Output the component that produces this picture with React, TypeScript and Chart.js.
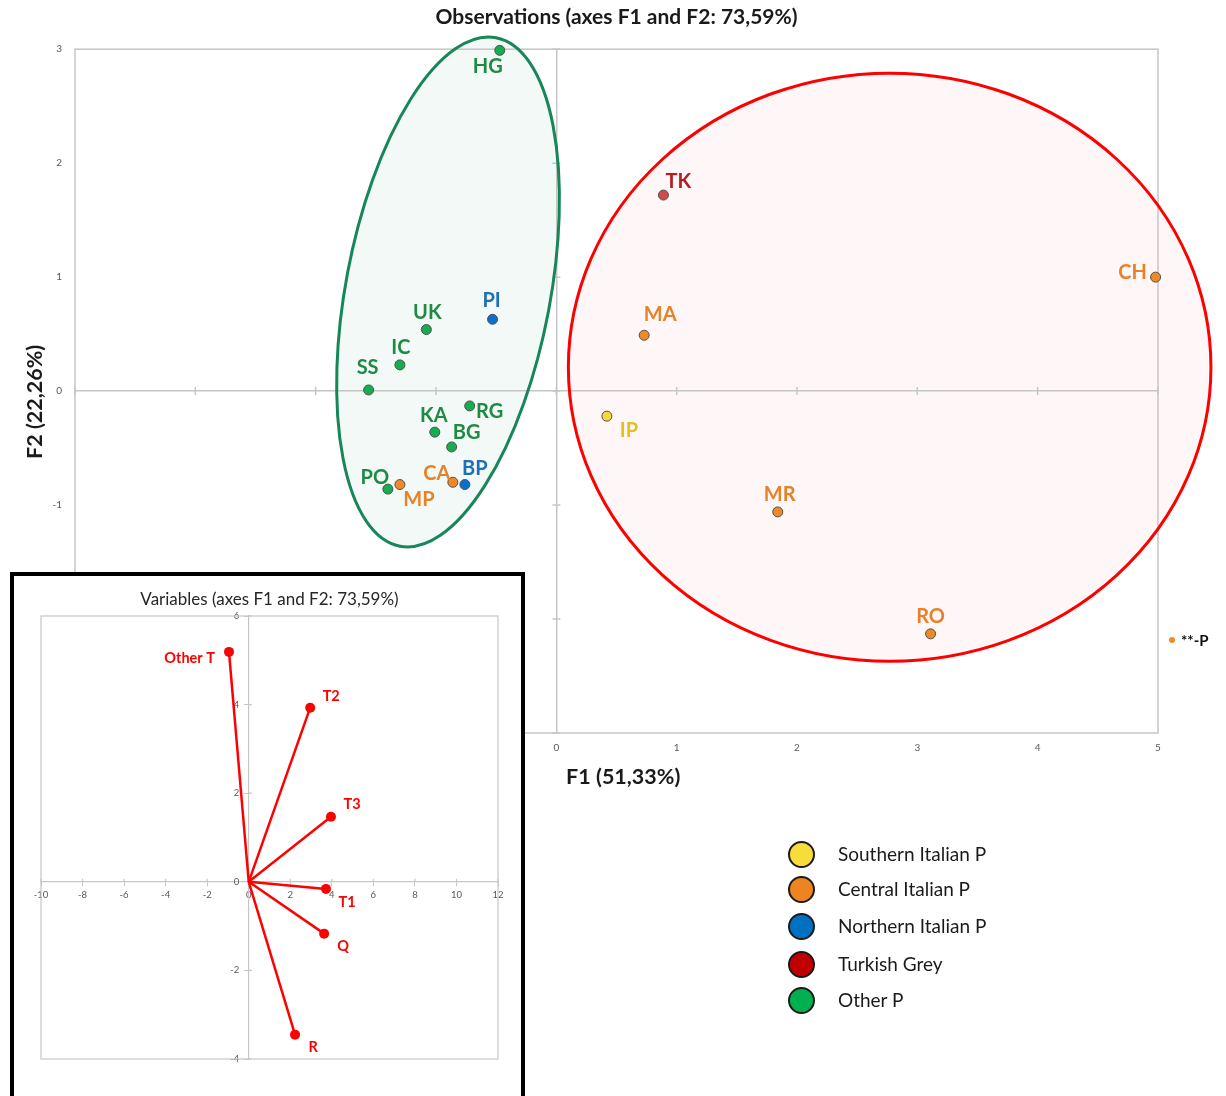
import React, { useEffect, useRef } from 'react';
import { Chart, registerables } from 'chart.js';

Chart.register(...registerables);

// ---------- Observations (main chart) ----------
const OBS_NAMES = ['HG', 'TK', 'CH', 'MA', 'PI', 'UK', 'IC', 'SS', 'RG', 'KA', 'BG', 'CA', 'BP', 'PO', 'MP', 'IP', 'MR', 'RO'];
const OBS_F1 = [-0.47, 0.89, 4.98, 0.73, -0.53, -1.08, -1.3, -1.56, -0.72, -1.01, -0.87, -0.86, -0.76, -1.4, -1.3, 0.42, 1.84, 3.11];
const OBS_F2 = [2.99, 1.72, 1.0, 0.49, 0.63, 0.54, 0.23, 0.01, -0.13, -0.36, -0.49, -0.8, -0.82, -0.86, -0.82, -0.22, -1.06, -2.13];
const OBS_GROUP = ['Other P', 'Turkish Grey', 'Central Italian P', 'Central Italian P', 'Northern Italian P', 'Other P', 'Other P', 'Other P', 'Other P', 'Other P', 'Other P', 'Central Italian P', 'Northern Italian P', 'Other P', 'Central Italian P', 'Southern Italian P', 'Central Italian P', 'Central Italian P'];
const GROUPS = ['Southern Italian P', 'Central Italian P', 'Northern Italian P', 'Turkish Grey', 'Other P'];

const F1_RANGE = [-4, 5];
const F2_RANGE = [-3, 3];
const OBS_TITLE = 'Observations (axes F1 and F2: 73,59%)';
const F1_TITLE = 'F1 (51,33%)';
const F2_TITLE = 'F2 (22,26%)';

// cluster ellipses (data units)
const CLUSTER_CENTER_F1 = [-0.9, 2.77];
const CLUSTER_CENTER_F2 = [0.87, 0.21];
const CLUSTER_RADIUS_F1 = [0.85, 2.67];
const CLUSTER_RADIUS_F2 = [2.27, 2.58];
const CLUSTER_TILT_DEG = [10.7, 0];

// ---------- Variables (inset chart) ----------
const VAR_NAMES = ['Other T', 'T2', 'T3', 'T1', 'Q', 'R'];
const VAR_F1 = [-0.95, 2.96, 3.96, 3.72, 3.63, 2.23];
const VAR_F2 = [5.19, 3.93, 1.47, -0.16, -1.17, -3.45];
const VAR_X_RANGE = [-10, 12];
const VAR_Y_RANGE = [-4, 6];
const VAR_TITLE = 'Variables (axes F1 and F2: 73,59%)';

// ---------- styles ----------
const GROUP_STYLE: Record<string, { point: string; text: string; legend: string }> = {
  'Southern Italian P': { point: '#f6d83a', text: '#e6bf1e', legend: '#f7dc3c' },
  'Central Italian P': { point: '#ef8a24', text: '#e5822a', legend: '#ee8420' },
  'Northern Italian P': { point: '#0a6fcf', text: '#1f6fb8', legend: '#0070c0' },
  'Turkish Grey': { point: '#d04a4a', text: '#b41c26', legend: '#c00000' },
  'Other P': { point: '#16ad50', text: '#1f8a44', legend: '#00b050' },
};
const CLUSTER_STYLE = [
  { stroke: '#17875a', fill: 'rgba(26,138,92,0.055)' },
  { stroke: '#ff0000', fill: 'rgba(255,0,0,0.033)' },
];
const OBS_LABEL_OFFSET: Record<string, [number, number]> = {
  HG: [-12, 16], TK: [15, -14], CH: [-23, -5], MA: [16, -21], PI: [-1, -19], UK: [1, -17],
  IC: [1, -17], SS: [-1, -22], RG: [20, 6], KA: [-1, -17], BG: [15, -14], CA: [-16, -9],
  BP: [10, -16], PO: [-13, -12], MP: [19, 15], IP: [22, 14], MR: [2, -17], RO: [0, -17],
};
const VAR_LABEL_OFFSET: Record<string, [number, number, CanvasTextAlign]> = {
  'Other T': [-14, 6, 'right'], T2: [21, -11, 'center'], T3: [21, -12, 'center'],
  T1: [21, 13, 'center'], Q: [19, 13, 'center'], R: [18, 13, 'center'],
};
const LEGEND_Y = [854, 889, 926, 964, 1000];
const FONT = 'Lato, "Open Sans", sans-serif';
const AXIS_GREY = '#c6c6c6';

const obsPlugin = {
  id: 'obsExtras',
  beforeDraw(chart: any) {
    const { ctx } = chart;
    const x = chart.scales.x;
    const y = chart.scales.y;
    CLUSTER_CENTER_F1.forEach((c1, i) => {
      const cx = x.getPixelForValue(c1);
      const cy = y.getPixelForValue(CLUSTER_CENTER_F2[i]);
      const rx = Math.abs(x.getPixelForValue(c1 + CLUSTER_RADIUS_F1[i]) - cx);
      const ry = Math.abs(y.getPixelForValue(CLUSTER_CENTER_F2[i] + CLUSTER_RADIUS_F2[i]) - cy);
      ctx.save();
      ctx.beginPath();
      ctx.ellipse(cx, cy, rx, ry, (CLUSTER_TILT_DEG[i] * Math.PI) / 180, 0, Math.PI * 2);
      ctx.fillStyle = CLUSTER_STYLE[i].fill;
      ctx.fill();
      ctx.restore();
    });
  },
  beforeDatasetsDraw(chart: any) {
    const { ctx, chartArea: a } = chart;
    const x = chart.scales.x;
    const y = chart.scales.y;
    ctx.save();
    ctx.strokeStyle = AXIS_GREY;
    ctx.lineWidth = 1.5;
    ctx.strokeRect(a.left, a.top, a.right - a.left, a.bottom - a.top);
    const x0 = x.getPixelForValue(0);
    const y0 = y.getPixelForValue(0);
    ctx.beginPath();
    x.ticks.forEach((t: any) => {
      const px = x.getPixelForValue(t.value);
      ctx.moveTo(px, y0 - 4);
      ctx.lineTo(px, y0 + 4);
    });
    y.ticks.forEach((t: any) => {
      const py = y.getPixelForValue(t.value);
      ctx.moveTo(x0 - 4, py);
      ctx.lineTo(x0 + 4, py);
    });
    ctx.stroke();
    ctx.restore();
    CLUSTER_CENTER_F1.forEach((c1, i) => {
      const cx = x.getPixelForValue(c1);
      const cy = y.getPixelForValue(CLUSTER_CENTER_F2[i]);
      const rx = Math.abs(x.getPixelForValue(c1 + CLUSTER_RADIUS_F1[i]) - cx);
      const ry = Math.abs(y.getPixelForValue(CLUSTER_CENTER_F2[i] + CLUSTER_RADIUS_F2[i]) - cy);
      ctx.save();
      ctx.beginPath();
      ctx.ellipse(cx, cy, rx, ry, (CLUSTER_TILT_DEG[i] * Math.PI) / 180, 0, Math.PI * 2);
      ctx.strokeStyle = CLUSTER_STYLE[i].stroke;
      ctx.lineWidth = 3;
      ctx.stroke();
      ctx.restore();
    });
  },
  afterDatasetsDraw(chart: any) {
    const { ctx } = chart;
    ctx.save();
    ctx.font = `bold 20px ${FONT}`;
    ctx.textAlign = 'center';
    ctx.textBaseline = 'middle';
    chart.data.datasets.forEach((ds: any, di: number) => {
      const meta = chart.getDatasetMeta(di);
      meta.data.forEach((el: any, pi: number) => {
        const name = ds.data[pi].name;
        const off = OBS_LABEL_OFFSET[name] || [0, -16];
        ctx.fillStyle = GROUP_STYLE[ds.label].text;
        ctx.fillText(name, el.x + off[0], el.y + off[1]);
      });
    });
    ctx.restore();
  },
};

const varPlugin = {
  id: 'varExtras',
  beforeDatasetsDraw(chart: any) {
    const { ctx, chartArea: a } = chart;
    const x = chart.scales.x;
    const y = chart.scales.y;
    ctx.save();
    ctx.strokeStyle = AXIS_GREY;
    ctx.lineWidth = 1.2;
    ctx.strokeRect(a.left, a.top, a.right - a.left, a.bottom - a.top);
    const x0 = x.getPixelForValue(0);
    const y0 = y.getPixelForValue(0);
    ctx.beginPath();
    x.ticks.forEach((t: any) => {
      const px = x.getPixelForValue(t.value);
      ctx.moveTo(px, y0 - 3);
      ctx.lineTo(px, y0);
    });
    y.ticks.forEach((t: any) => {
      const py = y.getPixelForValue(t.value);
      ctx.moveTo(x0, py);
      ctx.lineTo(x0 + 3, py);
    });
    ctx.stroke();
    ctx.restore();
  },
  afterDatasetsDraw(chart: any) {
    const { ctx } = chart;
    ctx.save();
    ctx.font = `bold 14.5px ${FONT}`;
    ctx.textBaseline = 'middle';
    ctx.fillStyle = '#ff0000';
    chart.data.datasets.forEach((ds: any, di: number) => {
      const meta = chart.getDatasetMeta(di);
      const el = meta.data[1];
      const off = VAR_LABEL_OFFSET[ds.label] || [15, 10, 'center'];
      ctx.textAlign = off[2];
      ctx.fillText(ds.label, el.x + off[0], el.y + off[1]);
    });
    ctx.restore();
  },
};

function ObservationsChart() {
  const ref = useRef<HTMLCanvasElement>(null);
  useEffect(() => {
    if (!ref.current) return;
    const datasets = GROUPS.map((g) => ({
      label: g,
      data: OBS_NAMES.map((n, i) => ({ x: OBS_F1[i], y: OBS_F2[i], name: n, group: OBS_GROUP[i] })).filter((p) => p.group === g),
      backgroundColor: GROUP_STYLE[g].point,
      borderColor: '#505050',
      borderWidth: 1,
      pointRadius: 5,
      clip: false as any,
    }));
    const chart = new Chart(ref.current, {
      type: 'scatter',
      data: { datasets },
      plugins: [obsPlugin],
      options: {
        responsive: false,
        animation: false,
        devicePixelRatio: 1,
        layout: { padding: { left: 12, right: 68, top: 0, bottom: 303 } },
        plugins: {
          legend: { display: false },
          tooltip: { enabled: false },
          title: {
            display: true,
            fullSize: false,
            text: OBS_TITLE,
            color: '#1a1a1a',
            font: { family: FONT, size: 21, weight: 'bold' },
            padding: { top: 5, bottom: 19 },
          },
        },
        scales: {
          x: {
            type: 'linear',
            min: F1_RANGE[0],
            max: F1_RANGE[1],
            ticks: { stepSize: 1, color: '#595959', font: { family: FONT, size: 10 }, padding: 9 },
            grid: {
              color: (c: any) => (c.tick && c.tick.value === 0 ? AXIS_GREY : 'rgba(0,0,0,0)'),
              lineWidth: 1.5,
              drawTicks: false,
            },
            border: { display: false },
            title: {
              display: true,
              text: '\u2002\u2009' + F1_TITLE,
              color: '#1a1a1a',
              font: { family: FONT, size: 21.5, weight: 'bold' },
              padding: { top: 0, bottom: 3 },
            },
            afterFit: (s: any) => {
              s.height = 60;
            },
          },
          y: {
            type: 'linear',
            min: F2_RANGE[0],
            max: F2_RANGE[1],
            ticks: { stepSize: 1, color: '#595959', font: { family: FONT, size: 10 }, padding: 13 },
            grid: {
              color: (c: any) => (c.tick && c.tick.value === 0 ? AXIS_GREY : 'rgba(0,0,0,0)'),
              lineWidth: 1.5,
              drawTicks: false,
            },
            border: { display: false },
            title: {
              display: true,
              text: F2_TITLE + '\u2002\u2002',
              color: '#1a1a1a',
              font: { family: FONT, size: 21.5, weight: 'bold' },
              padding: { top: 10, bottom: 0 },
            },
            afterFit: (s: any) => {
              s.width = 63;
            },
          },
        },
      } as any,
    });
    return () => chart.destroy();
  }, []);
  return <canvas ref={ref} width={1226} height={1096} style={{ position: 'absolute', left: 0, top: 0, display: 'block' }} />;
}

function VariablesChart() {
  const ref = useRef<HTMLCanvasElement>(null);
  useEffect(() => {
    if (!ref.current) return;
    const datasets = VAR_NAMES.map((n, i) => ({
      label: n,
      data: [
        { x: 0, y: 0 },
        { x: VAR_F1[i], y: VAR_F2[i] },
      ],
      showLine: true,
      borderColor: '#ff0000',
      borderWidth: 2.5,
      backgroundColor: '#ff0000',
      pointRadius: [0, 5],
      pointBorderWidth: 0,
      clip: false as any,
    }));
    const chart = new Chart(ref.current, {
      type: 'scatter',
      data: { datasets },
      plugins: [varPlugin],
      options: {
        responsive: false,
        animation: false,
        devicePixelRatio: 1,
        layout: { padding: { left: 27, right: 23, top: 0, bottom: 37 } },
        plugins: {
          legend: { display: false },
          tooltip: { enabled: false },
          title: {
            display: true,
            text: VAR_TITLE,
            color: '#262626',
            font: { family: FONT, size: 17, weight: 'normal' },
            padding: { top: 13, bottom: 6.6 },
          },
        },
        scales: {
          x: {
            type: 'linear',
            position: { y: 0 },
            min: VAR_X_RANGE[0],
            max: VAR_X_RANGE[1],
            ticks: { stepSize: 2, color: '#595959', font: { family: FONT, size: 9.5 }, padding: 3 },
            grid: { drawOnChartArea: false, drawTicks: true, tickLength: 4, color: AXIS_GREY },
            border: { display: true, color: AXIS_GREY, width: 1.2 },
          },
          y: {
            type: 'linear',
            position: { x: 0 },
            min: VAR_Y_RANGE[0],
            max: VAR_Y_RANGE[1],
            ticks: {
              stepSize: 2,
              color: '#595959',
              font: { family: FONT, size: 9.5 },
              padding: 4,
              callback: (v: any) => String(v) + '\u2002\u2002',
            },
            grid: { drawOnChartArea: false, drawTicks: true, tickLength: 4, color: AXIS_GREY },
            border: { display: true, color: AXIS_GREY, width: 1.2 },
          },
        },
      } as any,
    });
    return () => chart.destroy();
  }, []);
  return <canvas ref={ref} width={507} height={520} style={{ display: 'block' }} />;
}

export default function App() {
  return (
    <div style={{ position: 'absolute', left: 0, top: 0, width: 1226, height: 1096, overflow: 'hidden', background: '#fff' }}>
      <ObservationsChart />
      <div style={{ position: 'absolute', left: 1169, top: 637, width: 6, height: 6, borderRadius: '50%', background: '#ef8a24' }} />
      <div style={{ position: 'absolute', left: 1181, top: 630, fontFamily: FONT, fontWeight: 'bold', fontSize: 15, lineHeight: '20px', color: '#111' }}>**-P</div>
      {GROUPS.map((g, i) => (
        <React.Fragment key={g}>
          <div
            style={{
              position: 'absolute',
              left: 788,
              top: LEGEND_Y[i] - 13,
              width: 27,
              height: 27,
              boxSizing: 'border-box',
              borderRadius: '50%',
              border: '2px solid #1a1a1a',
              background: GROUP_STYLE[g].legend,
            }}
          />
          <div
            style={{
              position: 'absolute',
              left: 838,
              top: LEGEND_Y[i] - 13,
              fontFamily: FONT,
              fontSize: 19,
              lineHeight: '26px',
              color: '#1a1a1a',
              whiteSpace: 'nowrap',
            }}
          >
            {g}
          </div>
        </React.Fragment>
      ))}
      <div
        style={{
          position: 'absolute',
          left: 10,
          top: 572,
          width: 515,
          height: 528,
          boxSizing: 'border-box',
          border: '4px solid #000',
          background: '#fff',
        }}
      >
        <VariablesChart />
      </div>
    </div>
  );
}
